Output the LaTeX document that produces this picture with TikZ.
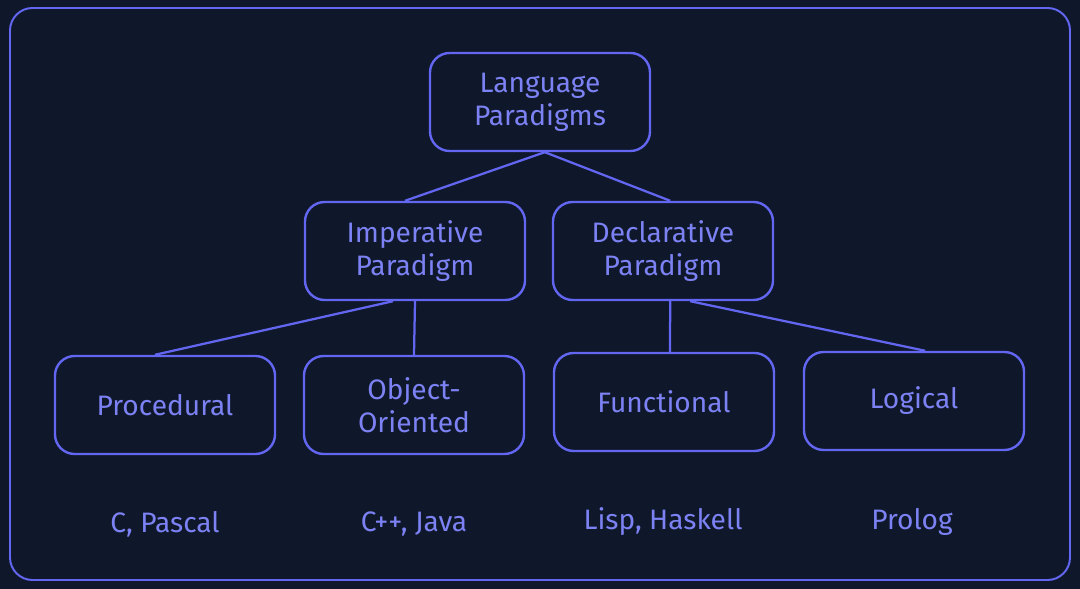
\documentclass[tikz,border=0pt]{standalone}
\usepackage{fontspec}
\setmainfont{Fira Sans}
\usetikzlibrary{calc}

\definecolor{bgnavy}{HTML}{0F172A}
\definecolor{penblue}{HTML}{6366F1}
\definecolor{inkblue}{HTML}{7C82F3}

\tikzset{
	paradigm/.style={draw=penblue, line width=1.7pt, rounded corners=14pt,
		minimum width=5.5cm, minimum height=2.45cm, align=center,
		text=inkblue, font=\fontsize{20}{23.5}\selectfont},
	example/.style={text=inkblue, font=\fontsize{20}{23.5}\selectfont},
	link/.style={penblue, line width=1.6pt}
}

\begin{document}
\begin{tikzpicture}[x=0.025cm, y=-0.025cm]
	% background and frame
	\fill[bgnavy] (0,0) rectangle (1080,589);
	\draw[penblue, line width=1.4pt, rounded corners=16pt] (10,8) rectangle (1070,580);

	% boxes
	\node[paradigm] (lang) at (540,102) {Language\\Paradigms};
	\node[paradigm] (imp) at (415,251) {Imperative\\Paradigm};
	\node[paradigm] (decl) at (663,251) {Declarative\\Paradigm};
	\node[paradigm] (proc) at (165,405) {Procedural};
	\node[paradigm] (oop) at (414,405) {Object-\\Oriented};
	\node[paradigm] (func) at (664,402) {Functional};
	\node[paradigm] (logic) at (914,401) {Logical};

	% languages below
	\node[example] (procex) at (165,524) {C, Pascal};
	\node[example] (oopex) at (414,524) {C++, Java};
	\node[example] (funcex) at (663,522) {Lisp, Haskell};
	\node[example] (logicex) at (912,522) {Prolog};

	% links
	\draw[link] ([xshift=0.12cm]lang.south) -- ([xshift=-0.25cm]imp.north);
	\draw[link] ([xshift=0.12cm]lang.south) -- ([xshift=0.18cm]decl.north);
	\draw[link] ([xshift=-0.55cm]imp.south) -- ([xshift=-0.25cm]proc.north);
	\draw[link] (imp.south) -- (oop.north);
	\draw[link] ([xshift=0.18cm]decl.south) -- ([xshift=0.15cm]func.north);
	\draw[link] ([xshift=0.68cm]decl.south) -- ([xshift=0.28cm]logic.north);
\end{tikzpicture}
\end{document}
